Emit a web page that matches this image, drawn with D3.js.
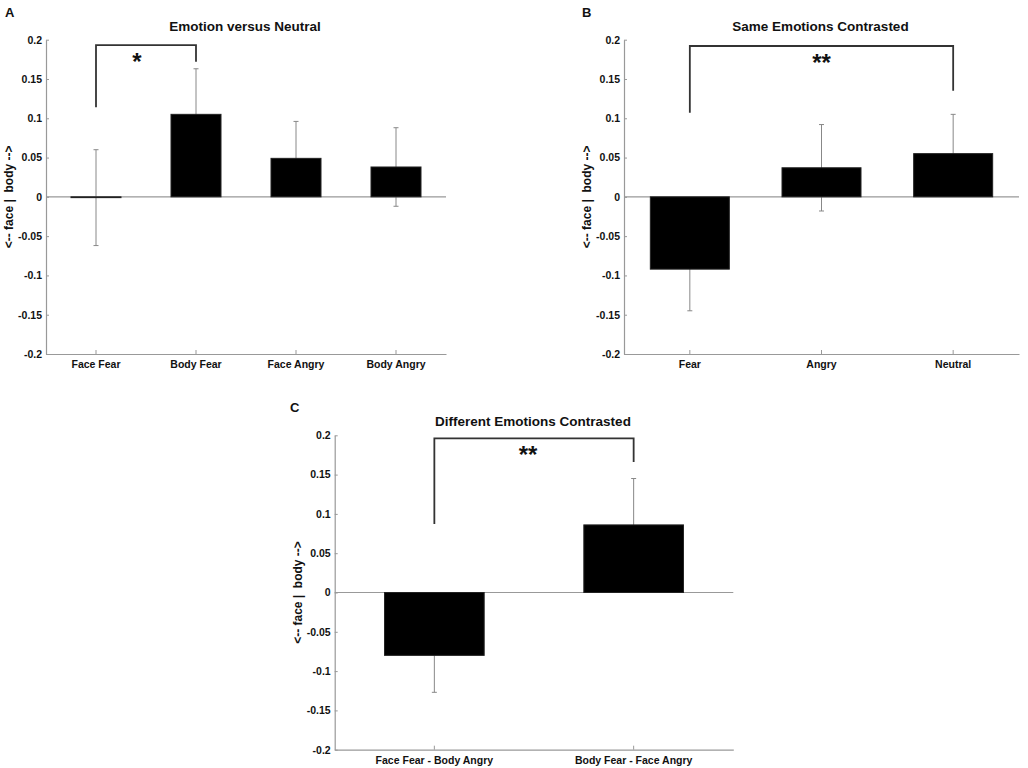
<!DOCTYPE html>
<html>
<head>
<meta charset="utf-8">
<script src="https://cdn.jsdelivr.net/npm/d3@7"></script>
<style>
  body { margin: 0; background: #fff; }
  svg text { font-family: "Liberation Sans", Arial, sans-serif; font-weight: bold; fill: #111; }
  .axis path, .axis line { stroke: #999; }
  .axis text { font-size: 10.5px; fill: #111; }
</style>
</head>
<body>
<div id="output"></div>
<script>
const catsA = ['Face Fear', 'Body Fear', 'Face Angry', 'Body Angry'];
const meanA = [-0.001, 0.105, 0.049, 0.038];
const errA = [0.061, 0.058, 0.047, 0.050];

const catsB = ['Fear', 'Angry', 'Neutral'];
const meanB = [-0.092, 0.037, 0.055];
const errB = [0.053, 0.055, 0.050];

const catsC = ['Face Fear - Body Angry', 'Body Fear - Face Angry'];
const meanC = [-0.080, 0.086];
const errC = [0.047, 0.059];

const yTicks = [-0.2, -0.15, -0.1, -0.05, 0, 0.05, 0.1, 0.15, 0.2];

// significance brackets: [from index, to index], heights of left leg, top, right leg
const sigA = { pair: [0, 1], ends: [0.114, 0.193, 0.172], mark: '*' };
const sigB = { pair: [0, 2], ends: [0.107, 0.192, 0.135], mark: '**' };
const sigC = { pair: [0, 1], ends: [0.087, 0.196, 0.166], mark: '**' };

const svg = d3.select('#output')
  .append('svg')
  .attr('width', 1028)
  .attr('height', 768);

function drawPanel(p) {
  const x = d3.scaleBand().domain(p.cats).range([p.left, p.right]).padding(0);
  const y = d3.scaleLinear().domain([-0.2, 0.2]).range([p.bottom, p.top]);
  const g = svg.append('g');
  const bw = x.bandwidth() * p.barRatio;
  const cx = d => x(d) + x.bandwidth() / 2;

  // zero line
  g.append('line')
    .attr('x1', p.left).attr('x2', p.right)
    .attr('y1', y(0)).attr('y2', y(0))
    .attr('stroke', '#999').attr('stroke-width', 1.2);

  // error bars (drawn under the bars)
  const err = g.selectAll('.err')
    .data(p.cats)
    .join('g')
    .attr('class', 'err')
    .attr('stroke', '#888')
    .attr('stroke-width', 1);
  err.append('line')
    .attr('x1', cx).attr('x2', cx)
    .attr('y1', (d, i) => y(p.mean[i] + p.err[i]))
    .attr('y2', (d, i) => y(p.mean[i] - p.err[i]));
  [1, -1].forEach(s => {
    err.append('line')
      .attr('x1', d => cx(d) - 2.5).attr('x2', d => cx(d) + 2.5)
      .attr('y1', (d, i) => y(p.mean[i] + s * p.err[i]))
      .attr('y2', (d, i) => y(p.mean[i] + s * p.err[i]));
  });

  // bars
  g.selectAll('.bar')
    .data(p.cats)
    .join('rect')
    .attr('class', 'bar')
    .attr('x', d => cx(d) - bw / 2)
    .attr('width', bw)
    .attr('y', (d, i) => y(Math.max(0, p.mean[i])))
    .attr('height', (d, i) => Math.abs(y(p.mean[i]) - y(0)))
    .attr('fill', '#000')
    .attr('stroke', '#222')
    .attr('stroke-width', 1);

  // axes
  g.append('g')
    .attr('class', 'axis')
    .attr('transform', `translate(${p.left},0)`)
    .call(d3.axisLeft(y).tickValues(yTicks).tickFormat(d => String(d))
      .tickSizeInner(-3).tickSizeOuter(0).tickPadding(4));
  g.append('g')
    .attr('class', 'axis')
    .attr('transform', `translate(0,${p.bottom})`)
    .call(d3.axisBottom(x).tickSizeInner(-4).tickSizeOuter(0).tickPadding(7));
  g.selectAll('.axis .domain').attr('stroke-width', 1.2);

  // significance bracket
  const s = p.sig;
  const xa = cx(p.cats[s.pair[0]]), xb = cx(p.cats[s.pair[1]]);
  g.append('path')
    .attr('d', `M${xa},${y(s.ends[0])}V${y(s.ends[1])}H${xb}V${y(s.ends[2])}`)
    .attr('fill', 'none')
    .attr('stroke', '#333')
    .attr('stroke-width', 1.8);
  g.append('text')
    .attr('x', xa + (xb - xa) * p.starAt)
    .attr('y', y(s.ends[1]) + 25)
    .attr('text-anchor', 'middle')
    .attr('font-size', 24)
    .text(s.mark);

  // title, panel letter, y label
  g.append('text')
    .attr('x', (p.left + p.right) / 2 + p.titleShift)
    .attr('y', p.top - 9)
    .attr('text-anchor', 'middle')
    .attr('font-size', 13.5)
    .text(p.title);
  g.append('text')
    .attr('x', p.letterX)
    .attr('y', p.top - 23)
    .attr('font-size', 13)
    .text(p.letter);
  g.append('text')
    .attr('transform', `translate(${p.left - 33},${(p.top + p.bottom) / 2}) rotate(-90)`)
    .attr('text-anchor', 'middle')
    .attr('font-size', 12)
    .style('white-space', 'pre')
    .text('<-- face |  body -->');
}

drawPanel({
  cats: catsA, mean: meanA, err: errA, sig: sigA,
  left: 46, right: 446, top: 39.7, bottom: 354, barRatio: 0.5,
  starAt: 0.41, title: 'Emotion versus Neutral', titleShift: -1,
  letter: 'A', letterX: 5
});
drawPanel({
  cats: catsB, mean: meanB, err: errB, sig: sigB,
  left: 624, right: 1019, top: 39.7, bottom: 354, barRatio: 0.6,
  starAt: 0.5, title: 'Same Emotions Contrasted', titleShift: -1,
  letter: 'B', letterX: 582
});
drawPanel({
  cats: catsC, mean: meanC, err: errC, sig: sigC,
  left: 334.7, right: 733.3, top: 435.3, bottom: 749.7, barRatio: 0.5,
  starAt: 0.47, title: 'Different Emotions Contrasted', titleShift: -1,
  letter: 'C', letterX: 290
});
</script>
</body>
</html>
